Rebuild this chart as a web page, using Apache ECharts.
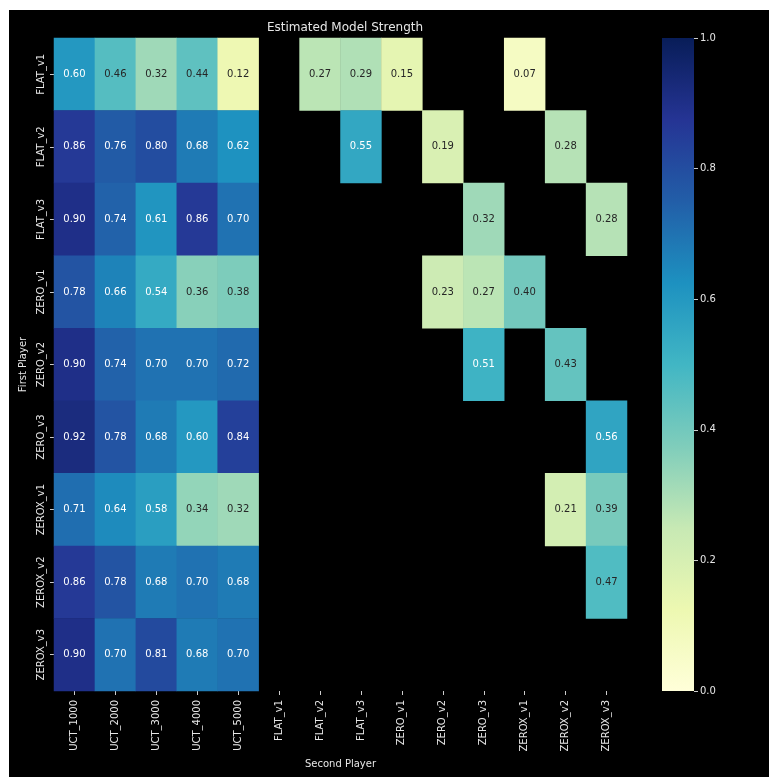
<!DOCTYPE html>
<html>
<head>
<meta charset="utf-8">
<script src="https://cdn.jsdelivr.net/npm/echarts@6/dist/echarts.min.js"></script>
<style>
  html, body { margin: 0; padding: 0; background: #ffffff; }
  #chart { position: absolute; left: 9px; top: 10px; width: 760px; height: 767px; }
</style>
</head>
<body>
<div id="chart"></div>
<script>
// first player (rows) and second player (columns)
var firstPlayers = ["FLAT_v1", "FLAT_v2", "FLAT_v3", "ZERO_v1", "ZERO_v2", "ZERO_v3", "ZEROX_v1", "ZEROX_v2", "ZEROX_v3"];
var secondPlayers = ["UCT_1000", "UCT_2000", "UCT_3000", "UCT_4000", "UCT_5000",
    "FLAT_v1", "FLAT_v2", "FLAT_v3", "ZERO_v1", "ZERO_v2", "ZERO_v3", "ZEROX_v1", "ZEROX_v2", "ZEROX_v3"];

// estimated strength, null = no game played
var strength = [
    [0.60, 0.46, 0.32, 0.44, 0.12, null, 0.27, 0.29, 0.15, null, null, 0.07, null, null],
    [0.86, 0.76, 0.80, 0.68, 0.62, null, null, 0.55, null, 0.19, null, null, 0.28, null],
    [0.90, 0.74, 0.61, 0.86, 0.70, null, null, null, null, null, 0.32, null, null, 0.28],
    [0.78, 0.66, 0.54, 0.36, 0.38, null, null, null, null, 0.23, 0.27, 0.40, null, null],
    [0.90, 0.74, 0.70, 0.70, 0.72, null, null, null, null, null, 0.51, null, 0.43, null],
    [0.92, 0.78, 0.68, 0.60, 0.84, null, null, null, null, null, null, null, null, 0.56],
    [0.71, 0.64, 0.58, 0.34, 0.32, null, null, null, null, null, null, null, 0.21, 0.39],
    [0.86, 0.78, 0.68, 0.70, 0.68, null, null, null, null, null, null, null, null, 0.47],
    [0.90, 0.70, 0.81, 0.68, 0.70, null, null, null, null, null, null, null, null, null]
];

var colorbarTicks = [0, 0.2, 0.4, 0.6, 0.8, 1.0];

// YlGnBu
var ylgnbu = ["#ffffd9", "#edf8b1", "#c7e9b4", "#7fcdbb", "#41b6c4", "#1d91c0", "#225ea8", "#253494", "#081d58"];

var textColor = "#e6e6e6";
var fontFamily = "DejaVu Sans";

function buildCells() {
    var cells = [];
    for (var r = 0; r < strength.length; r++) {
        for (var c = 0; c < strength[r].length; c++) {
            var v = strength[r][c];
            if (v === null) continue;
            cells.push({
                value: [c, r, v],
                label: { color: v < 0.48 ? "#262626" : "#ffffff" }
            });
        }
    }
    return cells;
}

function drawChart() {
    var chart = echarts.init(document.getElementById("chart"));
    var stops = ylgnbu.map(function(col, i) {
        return { offset: i / (ylgnbu.length - 1), color: col };
    });

    chart.setOption({
        backgroundColor: "#000000",
        animation: false,
        textStyle: { fontFamily: fontFamily },
        title: {
            text: "Estimated Model Strength",
            left: 331,
            top: 7,
            textAlign: "center",
            textStyle: { color: textColor, fontSize: 12, fontWeight: "normal", fontFamily: fontFamily }
        },
        grid: [
            { left: 45, top: 28, width: 573, height: 653 },
            { left: 653, top: 28, width: 32, height: 653 }
        ],
        xAxis: [{
            type: "category",
            gridIndex: 0,
            data: secondPlayers,
            name: "Second Player",
            nameLocation: "middle",
            nameGap: 68,
            nameTextStyle: { color: textColor, fontSize: 10 },
            axisLine: { show: false },
            axisTick: { show: true, alignWithLabel: true, length: 4, lineStyle: { color: "#cccccc" } },
            axisLabel: { rotate: 90, color: textColor, fontSize: 10, margin: 9, interval: 0 },
            splitLine: { show: false }
        }, {
            type: "category",
            gridIndex: 1,
            data: ["cb"],
            show: false
        }],
        yAxis: [{
            type: "category",
            gridIndex: 0,
            data: firstPlayers,
            inverse: true,
            name: "First Player",
            nameLocation: "middle",
            nameGap: 24,
            nameRotate: 90,
            nameTextStyle: { color: textColor, fontSize: 10 },
            axisLine: { show: false },
            axisTick: { show: true, alignWithLabel: true, length: 4, lineStyle: { color: "#cccccc" } },
            axisLabel: { rotate: 90, color: textColor, fontSize: 10, margin: 8, interval: 0 },
            splitLine: { show: false }
        }, {
            type: "value",
            gridIndex: 1,
            position: "right",
            min: colorbarTicks[0],
            max: colorbarTicks[colorbarTicks.length - 1],
            interval: 0.2,
            axisLine: { show: false },
            axisTick: { show: true, length: 4, lineStyle: { color: "#cccccc" } },
            axisLabel: {
                color: textColor, fontSize: 10, margin: 6,
                formatter: function(v) { return v.toFixed(1); }
            },
            splitLine: { show: false }
        }],
        visualMap: {
            show: false,
            type: "continuous",
            seriesIndex: 0,
            dimension: 2,
            min: 0,
            max: 1,
            inRange: { color: ylgnbu }
        },
        series: [{
            type: "heatmap",
            xAxisIndex: 0,
            yAxisIndex: 0,
            data: buildCells(),
            label: {
                show: true,
                fontSize: 10,
                fontFamily: fontFamily,
                formatter: function(p) { return p.value[2].toFixed(2); }
            },
            emphasis: { disabled: true }
        }, {
            type: "bar",
            xAxisIndex: 1,
            yAxisIndex: 1,
            data: [colorbarTicks[colorbarTicks.length - 1]],
            barWidth: "100%",
            silent: true,
            itemStyle: {
                color: { type: "linear", x: 0, y: 1, x2: 0, y2: 0, colorStops: stops }
            }
        }]
    });
}

drawChart();
</script>
</body>
</html>
